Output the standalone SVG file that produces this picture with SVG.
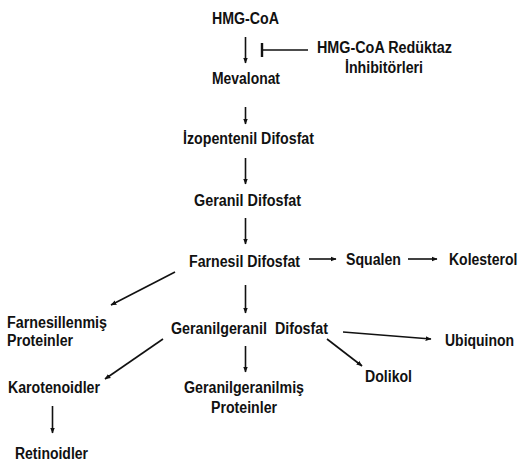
<svg xmlns="http://www.w3.org/2000/svg" width="519" height="462" viewBox="0 0 519 462">
<style>
text{font-family:"Liberation Sans",Arial,sans-serif;font-weight:bold;font-size:16px;fill:#111}
text.n{font-size:14px}
.c line{stroke:#111;stroke-width:1.6;fill:none}
.a{marker-end:url(#ah)}
</style>
<defs>
<marker id="ah" viewBox="0 0 10 10" refX="9" refY="5" markerWidth="6" markerHeight="6" orient="auto" markerUnits="userSpaceOnUse">
<path d="M0,1 L10,5 L0,9 z" fill="#111"/>
</marker>
</defs>
<rect width="519" height="462" fill="#fff"/>
<g class="c" id="connectors">
<line class="a" x1="245.5" y1="37" x2="245.5" y2="63"/>
<line x1="262" y1="50" x2="308" y2="50"/>
<line x1="262" y1="43" x2="262" y2="57" style="stroke-width:2.4"/>
<line class="a" x1="245.5" y1="107" x2="245.5" y2="124"/>
<line class="a" x1="245.5" y1="158" x2="245.5" y2="184"/>
<line class="a" x1="245.5" y1="218" x2="245.5" y2="244"/>
<line class="a" x1="309" y1="259" x2="336" y2="259"/>
<line class="a" x1="408" y1="259" x2="437" y2="259"/>
<line class="a" x1="175" y1="272" x2="111" y2="305"/>
<line class="a" x1="245.5" y1="285" x2="245.5" y2="313"/>
<line class="a" x1="343" y1="332" x2="431" y2="339"/>
<line class="a" x1="327" y1="339" x2="362" y2="366"/>
<line class="a" x1="245.5" y1="346" x2="245.5" y2="372"/>
<line class="a" x1="163" y1="339" x2="105" y2="379"/>
<line class="a" x1="52.5" y1="406" x2="52.5" y2="433"/>
</g>
<g id="hmgcoa"><text x="212" y="24" textLength="67" lengthAdjust="spacingAndGlyphs">HMG-CoA</text></g>
<g id="inhibitor"><text x="317" y="53" textLength="135" lengthAdjust="spacingAndGlyphs">HMG-CoA Redüktaz</text><text x="345" y="73" textLength="78" lengthAdjust="spacingAndGlyphs">İnhibitörleri</text></g>
<g id="mevalonat"><text x="212" y="84" textLength="68" lengthAdjust="spacingAndGlyphs">Mevalonat</text></g>
<g id="izopentenil"><text x="183" y="144" textLength="131" lengthAdjust="spacingAndGlyphs">İzopentenil Difosfat</text></g>
<g id="geranil"><text x="194" y="206" textLength="107" lengthAdjust="spacingAndGlyphs">Geranil Difosfat</text></g>
<g id="farnesil"><text x="189" y="267" textLength="111" lengthAdjust="spacingAndGlyphs">Farnesil Difosfat</text></g>
<g id="squalen"><text x="346" y="265" textLength="55" lengthAdjust="spacingAndGlyphs">Squalen</text></g>
<g id="kolesterol"><text class="n" transform="translate(449,265) scale(1,1.14)">Kolesterol</text></g>
<g id="farnesillenmis"><text x="7" y="328" textLength="100" lengthAdjust="spacingAndGlyphs">Farnesillenmiş</text><text x="7" y="346" textLength="66" lengthAdjust="spacingAndGlyphs">Proteinler</text></g>
<g id="geranilgeranil"><text x="171" y="334" textLength="157" lengthAdjust="spacingAndGlyphs" xml:space="preserve">Geranilgeranil  Difosfat</text></g>
<g id="ubiquinon"><text class="n" transform="translate(445,346) scale(1,1.14)">Ubiquinon</text></g>
<g id="dolikol"><text x="365" y="382" textLength="47" lengthAdjust="spacingAndGlyphs">Dolikol</text></g>
<g id="karotenoidler"><text x="8" y="393" textLength="92" lengthAdjust="spacingAndGlyphs">Karotenoidler</text></g>
<g id="geranilgeranilmis"><text x="184" y="393" textLength="120" lengthAdjust="spacingAndGlyphs">Geranilgeranilmiş</text><text x="211" y="413" textLength="66" lengthAdjust="spacingAndGlyphs">Proteinler</text></g>
<g id="retinoidler"><text x="15" y="459" textLength="73" lengthAdjust="spacingAndGlyphs">Retinoidler</text></g>
</svg>
